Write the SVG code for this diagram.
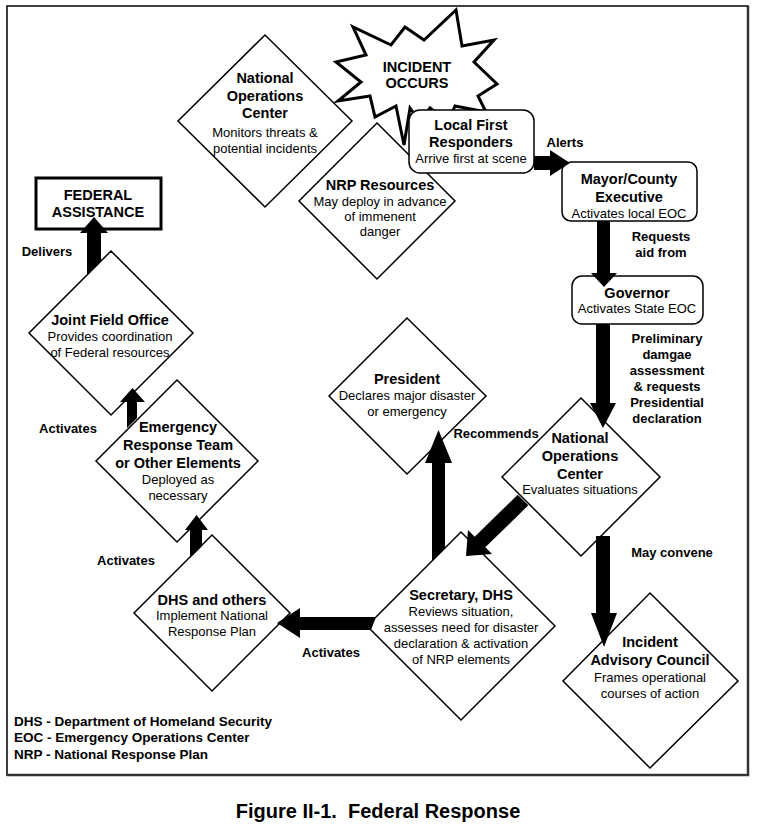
<svg xmlns="http://www.w3.org/2000/svg" width="759" height="828" viewBox="0 0 759 828">
<style>
.d{fill:#fff;stroke:#000;stroke-width:1.5}
.r{fill:#fff;stroke:#000;stroke-width:1.5}
.t{font-family:"Liberation Sans",Arial,sans-serif;font-size:14.5px;font-weight:bold;text-anchor:middle;fill:#000}
.s{font-family:"Liberation Sans",Arial,sans-serif;font-size:13px;text-anchor:middle;fill:#000}
.l{font-family:"Liberation Sans",Arial,sans-serif;font-size:13px;font-weight:bold;text-anchor:middle;fill:#000}
.g{font-family:"Liberation Sans",Arial,sans-serif;font-size:13.5px;font-weight:bold;fill:#000}
.a{fill:#000;stroke:none}
</style>
<rect x="0" y="0" width="759" height="828" fill="#fff"/>
<rect x="7" y="6" width="741" height="769" fill="none" stroke="#000" stroke-width="1.5"/>
<polyline points="7,775 748,775 748,6" fill="none" stroke="#333" stroke-width="2.5"/>

<g id="incident">
<polygon class="d" style="stroke-width:3" points="456,10 462,46 494,40 474,62 497,84 478,96 486,112 455,106 448,122 430,108 420,122 410,108 404,145 396,106 375,117 370,96 338,101 361,82 336,62 366,55 353,27 391,45 405,27 424,40"/>
<text class="t" x="417" y="72">INCIDENT</text>
<text class="t" x="417" y="88">OCCURS</text>
</g>

<g id="nrp">
<polygon class="d" points="377,123 455,201 377,279 299,201"/>
<text class="t" x="380" y="190">NRP Resources</text>
<text class="s" x="380" y="206">May deploy in advance</text>
<text class="s" x="380" y="221">of immenent</text>
<text class="s" x="380" y="236">danger</text>
</g>

<g id="noc1">
<polygon class="d" points="265,35 352,121 265,207 178,121"/>
<text class="t" x="265" y="83">National</text>
<text class="t" x="265" y="101">Operations</text>
<text class="t" x="265" y="118">Center</text>
<text class="s" x="265" y="137">Monitors threats &amp;</text>
<text class="s" x="265" y="153">potential incidents</text>
</g>

<g id="local">
<rect class="r" x="409" y="110" width="125" height="63" rx="11"/>
<text class="t" x="471" y="130">Local First</text>
<text class="t" x="471" y="147">Responders</text>
<text class="s" x="471" y="163">Arrive first at scene</text>
</g>

<g id="mayor">
<rect class="r" x="562" y="162" width="135" height="59" rx="9"/>
<text class="t" x="629" y="184">Mayor/County</text>
<text class="t" x="629" y="202">Executive</text>
<text class="s" x="629" y="218">Activates local EOC</text>
</g>

<g id="governor">
<rect class="r" x="572" y="276" width="131" height="48" rx="10"/>
<text class="t" x="637" y="298">Governor</text>
<text class="s" x="637" y="313">Activates State EOC</text>
</g>

<g id="noc2">
<polygon class="d" points="581,398 660,477 581,556 502,477"/>
<text class="t" x="580" y="443">National</text>
<text class="t" x="580" y="461">Operations</text>
<text class="t" x="580" y="479">Center</text>
<text class="s" x="580" y="494">Evaluates situations</text>
</g>

<g id="president">
<polygon class="d" points="407,318 486,396 407,474 329,396"/>
<text class="t" x="407" y="384">President</text>
<text class="s" x="407" y="400">Declares major disaster</text>
<text class="s" x="407" y="416">or emergency</text>
</g>

<g id="secretary">
<polygon class="d" points="461,532 555,626 461,720 367,626"/>
<text class="t" x="461" y="600">Secretary, DHS</text>
<text class="s" x="461" y="616">Reviews situation,</text>
<text class="s" x="461" y="632">assesses need for disaster</text>
<text class="s" x="461" y="648">declaration &amp; activation</text>
<text class="s" x="461" y="664">of NRP elements</text>
</g>

<g id="iac">
<polygon class="d" points="650,593 738,681 650,768 563,681"/>
<text class="t" x="650" y="647">Incident</text>
<text class="t" x="650" y="665">Advisory Council</text>
<text class="s" x="650" y="682">Frames operational</text>
<text class="s" x="650" y="698">courses of action</text>
</g>

<g id="dhs">
<polygon class="d" points="212,535 290,613 212,691 134,613"/>
<text class="t" x="212" y="605">DHS and others</text>
<text class="s" x="212" y="620">Implement National</text>
<text class="s" x="212" y="636">Response Plan</text>
</g>

<g id="ert">
<polygon class="d" points="177,380 258,461 177,542 96,461"/>
<text class="t" x="178" y="432">Emergency</text>
<text class="t" x="178" y="450">Response Team</text>
<text class="t" x="178" y="468">or Other Elements</text>
<text class="s" x="178" y="484">Deployed as</text>
<text class="s" x="178" y="500">necessary</text>
</g>

<g id="jfo">
<polygon class="d" points="111,251 193,333 111,415 29,333"/>
<text class="t" x="110" y="325">Joint Field Office</text>
<text class="s" x="110" y="341">Provides coordination</text>
<text class="s" x="110" y="357">of Federal resources</text>
</g>

<g id="federal">
<rect x="36" y="178" width="125" height="51" fill="#fff" stroke="#000" stroke-width="3"/>
<text class="t" x="98" y="200">FEDERAL</text>
<text class="t" x="98" y="217">ASSISTANCE</text>
</g>

<g id="connectors">
<polygon class="a" points="534,156 550,156 550,150 570,163 550,176 550,170 534,170"/>
<polygon class="a" points="597,221 610,221 610,273 617,273 604,287 591,273 597,273"/>
<polygon class="a" points="596,324 610,324 610,403 616,403 603,428 590,403 596,403"/>
<polygon class="a" points="596,536 610,536 610,613 617,613 604,647 591,613 596,613"/>
<polygon class="a" points="517.7,494.7 528.3,505.3 485.3,547.3 492,554 466,556 468,530 474.7,536.7"/>
<polygon class="a" points="432,561 445,548 445,463 452,463 438.5,430 425,463 432,463"/>
<polygon class="a" points="376,617 300,617 300,608 277,623 300,638 300,630 371,630"/>
<polygon class="a" points="190,558 190,530 185,530 196.5,515 208,530 202,530 202,546"/>
<polygon class="a" points="127,428 127,402 120,402 132.5,388 145,402 137,402 137,418"/>
<polygon class="a" points="87,275 87,233 80,233 94,217 108,233 101,233 101,261"/>
</g>

<g id="labels">
<text class="l" x="565" y="147">Alerts</text>
<text class="l" x="661" y="241">Requests</text>
<text class="l" x="661" y="257">aid from</text>
<text class="l" x="667" y="343">Preliminary</text>
<text class="l" x="667" y="359">damgae</text>
<text class="l" x="667" y="375">assessment</text>
<text class="l" x="667" y="391">&amp; requests</text>
<text class="l" x="667" y="407">Presidential</text>
<text class="l" x="667" y="423">declaration</text>
<text class="l" x="496" y="438">Recommends</text>
<text class="l" x="672" y="557">May convene</text>
<text class="l" x="331" y="657">Activates</text>
<text class="l" x="126" y="565">Activates</text>
<text class="l" x="68" y="433">Activates</text>
<text class="l" x="47" y="256">Delivers</text>
</g>

<g id="legend">
<text class="g" x="14" y="726">DHS - Department of Homeland Security</text>
<text class="g" x="14" y="742">EOC - Emergency Operations Center</text>
<text class="g" x="14" y="759">NRP - National Response Plan</text>
</g>

<text x="378" y="818" xml:space="preserve" style="font-family:'Liberation Sans',Arial,sans-serif;font-size:20px;font-weight:bold;text-anchor:middle">Figure II-1.  Federal Response</text>
</svg>
